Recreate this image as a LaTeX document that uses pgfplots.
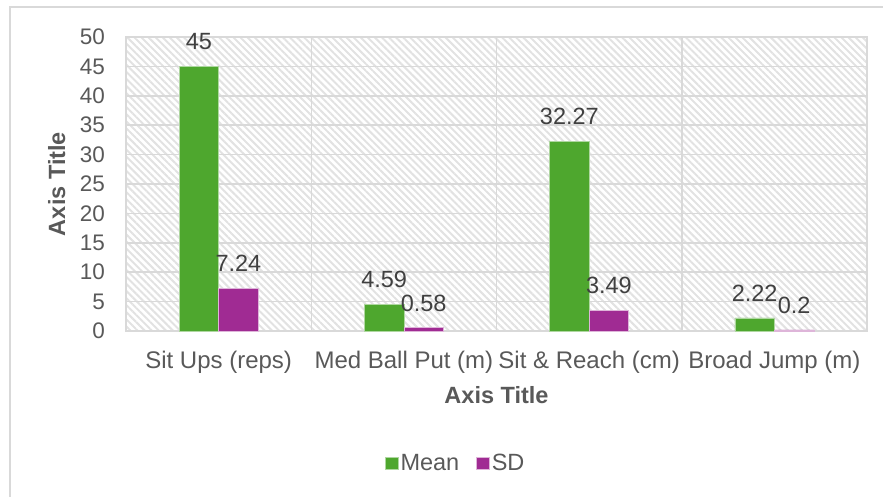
\documentclass[border=0pt]{standalone}
\usepackage{fontspec}
\setmainfont{Liberation Sans}
\usepackage{pgfplots}
\pgfplotsset{compat=1.18}
\usetikzlibrary{patterns.meta}
\definecolor{cgreen}{HTML}{4EA72E}
\definecolor{cpurple}{HTML}{A02B93}
\definecolor{cgrid}{HTML}{D9D9D9}
\definecolor{ctext}{HTML}{595959}
\definecolor{clabel}{HTML}{404040}
\definecolor{chatch}{HTML}{E2E2E2}
\begin{document}
\begin{tikzpicture}
\useasboundingbox (-126bp,-166bp) rectangle (757bp,331bp);
\draw[cgrid, line width=1.5bp] (-116bp,-200bp) -- (-116bp,324bp) -- (800bp,324bp);
\begin{axis}[
  scale only axis,
  width=741bp, height=294bp,
  at={(0,0)}, anchor=south west,
  ybar=0pt, bar width=39.5bp,
  xmin=-0.5, xmax=3.5, ymin=0, ymax=50,
  enlarge x limits=false,
  xtick={0,1,2,3},
  xticklabels={Sit Ups (reps),Med Ball Put (m),Sit \& Reach (cm),Broad Jump (m)},
  minor xtick={-0.5,0.5,1.5,2.5,3.5},
  ytick={0,5,...,50},
  major tick length=0pt, minor tick length=0pt,
  xmajorgrids=false, xminorgrids=true, ymajorgrids=true,
  grid style={draw=cgrid, line width=1.5bp},
  minor grid style={draw=cgrid, line width=1.5bp},
  axis line style={draw=cgrid, line width=1.5bp},
  axis background/.style={pattern={Lines[angle=-45,distance=5bp,line width=2bp]}, pattern color=chatch},
  /pgf/number format/assume math mode=true,
  yticklabel style={font=\fontsize{22.5bp}{26bp}\selectfont, text=ctext, anchor=east, inner sep=0pt, xshift=-21bp},
  xticklabel style={font=\fontsize{24bp}{28bp}\selectfont, text=ctext, anchor=base, inner sep=0pt, yshift=-37.3bp},
  xlabel={Axis Title}, ylabel={Axis Title},
  xlabel style={font=\fontsize{23.5bp}{28bp}\selectfont\bfseries, text=ctext, at={(axis description cs:0.5,-0.2459)}, anchor=base, inner sep=0pt},
  ylabel style={font=\fontsize{23.5bp}{28bp}\selectfont\bfseries, text=ctext, at={(axis description cs:-0.0823,0.5)}, anchor=base, inner sep=0pt},
  nodes near coords={\pgfmathprintnumber[fixed,precision=2]{\pgfplotspointmeta}},
  nodes near coords style={font=\fontsize{23.5bp}{28bp}\selectfont, text=clabel, anchor=base, yshift=16.5bp, inner sep=0pt},
  legend columns=2,
  legend style={at={(axis description cs:0.445,-0.449)}, anchor=center, draw=none, fill=none,
    font=\fontsize{23.5bp}{28bp}\selectfont, text=ctext,
    nodes={inner sep=2.5bp},
    /tikz/every even column/.append style={column sep=14bp}},
  legend cell align=left,
  legend image code/.code={\fill[#1] (0bp,-6bp) rectangle (13bp,6bp);},
  clip=false,
]
\addplot[fill=cgreen, draw=cgreen!45!white, line width=0.5bp] coordinates {(0,45) (1,4.59) (2,32.27) (3,2.22)};
\addplot[fill=cpurple, draw=cpurple!35!white, line width=0.5bp] coordinates {(0,7.24) (1,0.58) (2,3.49) (3,0.2)};
\legend{Mean,SD}
\end{axis}
\end{tikzpicture}
\end{document}
